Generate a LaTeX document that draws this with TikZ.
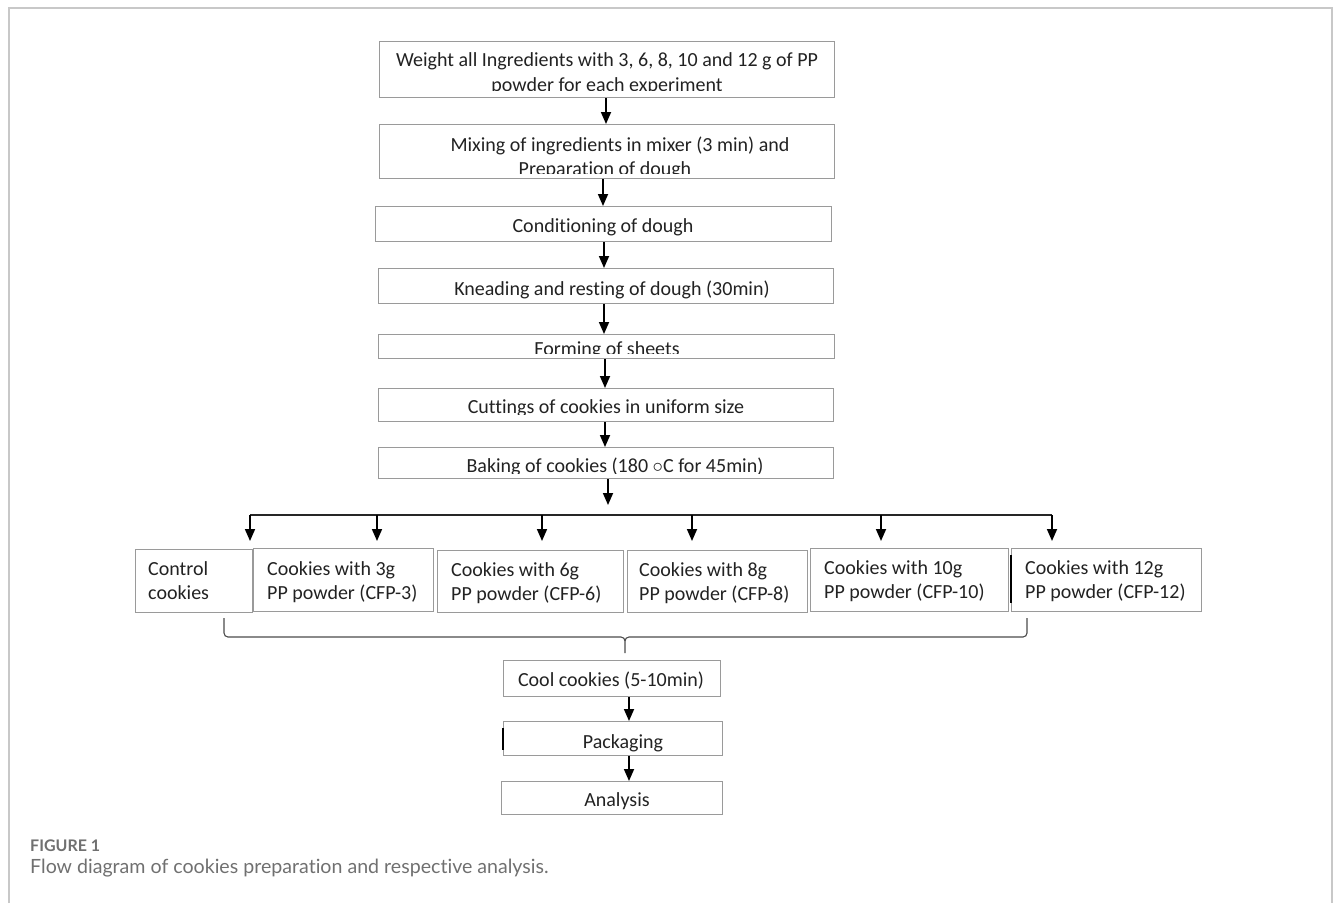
\documentclass[tikz,border=0pt]{standalone}
\usepackage{fontspec}
\setmainfont{Carlito}[Ligatures=NoCommon]
\newfontfamily\capfont{Lato}[Ligatures=NoCommon]
\usetikzlibrary{arrows.meta}
\definecolor{boxgray}{HTML}{9A9A9A}
\definecolor{framegray}{HTML}{C8C8C8}
\definecolor{capgray}{HTML}{707070}
\definecolor{textblack}{HTML}{222222}
\begin{document}
\begin{tikzpicture}[x=1pt,y=-1pt,
  box/.style={draw=boxgray, line width=1.1pt, inner sep=0pt, anchor=north west},
  txt/.style={inner sep=0pt, anchor=base, text=textblack, font=\fontsize{20}{24}\selectfont},
  ltxt/.style={txt, anchor=base west},
  arr/.style={draw=black, line width=1.7pt, -{Triangle[width=10pt,length=12pt]}},
  plain/.style={draw=black!85, line width=1.5pt},
  brace/.style={draw=black!70, line width=1.1pt},
  tick/.style={draw=black, line width=1.2pt}]
\useasboundingbox (0,0) rectangle (1333,903);
% outer frame
\draw[framegray, line width=2pt] (9,903) -- (9,8) -- (1332,8) -- (1332,903);

% main chain boxes
\node[box, minimum width=455pt, minimum height=56pt] (b1) at (379,41) {};
\node[box, minimum width=455pt, minimum height=54pt] (b2) at (379,124) {};
\node[box, minimum width=456pt, minimum height=35pt] (b3) at (375,206) {};
\node[box, minimum width=455pt, minimum height=35pt] (b4) at (378,268) {};
\node[box, minimum width=456pt, minimum height=24pt] (b5) at (378,334) {};
\node[box, minimum width=455pt, minimum height=33pt] (b6) at (378,388) {};
\node[box, minimum width=455pt, minimum height=31pt] (b7) at (378,447) {};

% texts
\node[txt] (t1a) at (607,66.5) {Weight all Ingredients with 3, 6, 8, 10 and 12 g of PP};
\begin{scope}
  \clip (379,70) rectangle (834,90);
  \node[txt] (t1b) at (607,91.5) {powder for each experiment};
\end{scope}
\node[txt] (t2a) at (620,151) {Mixing of ingredients in mixer (3 min) and};
\begin{scope}
  \clip (379,155) rectangle (834,173.5);
  \node[txt] (t2b) at (605,175.5) {Preparation of dough};
\end{scope}
\node[txt] (t3) at (603,232) {Conditioning of dough};
\node[txt] (t4) at (612,295) {Kneading and resting of dough (30min)};
\begin{scope}
  \clip (378,335) rectangle (834,353);
  \node[txt] (t5) at (607,355) {Forming of sheets};
\end{scope}
\begin{scope}
  \clip (378,389) rectangle (833,414);
  \node[txt] (t6) at (606,413) {Cuttings of cookies in uniform size};
\end{scope}
\begin{scope}
  \clip (378,448) rectangle (833,473);
  \node[txt] (t7) at (615,472) {Baking of cookies (180 $\circ$C for 45min)};
\end{scope}

% chain arrows
\coordinate (v1) at (606,0);
\coordinate (v2) at (603,0);
\coordinate (v3) at (604,0);
\coordinate (v5) at (605,0);
\draw[arr] (b1.south -| v1) -- (b2.north -| v1);
\draw[arr] (b2.south -| v2) -- (b3.north -| v2);
\draw[arr] (b3.south -| v3) -- (b4.north -| v3);
\draw[arr] (b4.south -| v3) -- (b5.north -| v3);
\draw[arr] (b5.south -| v5) -- (b6.north -| v5);
\draw[arr] (b6.south -| v5) -- (b7.north -| v5);
\coordinate (bk) at (608,505);
\draw[arr] (b7.south -| bk) -- (bk);

% distribution line
\coordinate (hl) at (250,515);
\coordinate (hr) at (1052,515);
\draw[plain] (hl) -- (hr);
\coordinate (a0) at (250,541);
\coordinate (a1) at (377,541);
\coordinate (a2) at (542,541);
\coordinate (a3) at (692,541);
\coordinate (a4) at (881,541);
\coordinate (a5) at (1052,541);
\foreach \a in {a0,a1,a2,a3,a4,a5} { \draw[arr] (\a |- hl) -- (\a); }

% sample boxes
\node[box, minimum width=117pt, minimum height=63pt] (c0) at (135,549) {};
\node[box, minimum width=180pt, minimum height=63pt] (c1) at (253,548) {};
\node[box, minimum width=186pt, minimum height=62pt] (c2) at (437,550) {};
\node[box, minimum width=180pt, minimum height=62pt] (c3) at (627,550) {};
\node[box, minimum width=198pt, minimum height=63pt] (c4) at (810,548) {};
\node[box, minimum width=190pt, minimum height=63pt] (c5) at (1011,548) {};
\draw[tick] (1011,555) -- (1011,603);

\node[ltxt] (u0a) at (148,575) {Control};
\node[ltxt] (u0b) at (148,599) {cookies};
\node[ltxt] (u1a) at (267,575) {Cookies with 3g};
\node[ltxt] (u1b) at (267,599) {PP powder (CFP-3)};
\node[ltxt] (u2a) at (451,576) {Cookies with 6g};
\node[ltxt] (u2b) at (451,600) {PP powder (CFP-6)};
\node[ltxt] (u3a) at (639,576) {Cookies with 8g};
\node[ltxt] (u3b) at (639,600) {PP powder (CFP-8)};
\node[ltxt] (u4a) at (824,574) {Cookies with 10g};
\node[ltxt] (u4b) at (824,598) {PP powder (CFP-10)};
\node[ltxt] (u5a) at (1025,574) {Cookies with 12g};
\node[ltxt] (u5b) at (1025,598) {PP powder (CFP-12)};

% brace
\coordinate (bt) at (625,653);
\draw[brace] (224,618) -- (224,633) to[out=-90,in=180] (228,637) -- (621,637)
  to[out=0,in=90] (625,641) -- (bt);
\draw[brace] (1027,618) -- (1027,633) to[out=-90,in=0] (1023,637) -- (629,637)
  to[out=180,in=90] (625,641);

% final boxes
\node[box, minimum width=217pt, minimum height=36pt] (cool) at (503,660) {};
\node[box, minimum width=219pt, minimum height=34pt] (pack) at (503,721) {};
\node[box, minimum width=221pt, minimum height=33pt] (ana) at (501,781) {};
\draw[tick] (503,728) -- (503,750);
\node[txt] (tc) at (611,686) {Cool cookies (5-10min)};
\node[txt] (tp) at (623,748) {Packaging};
\node[txt] (ta) at (617,806) {Analysis};
\coordinate (k1) at (629,0);
\draw[arr] (cool.south -| k1) -- (pack.north -| k1);
\draw[arr] (pack.south -| k1) -- (ana.north -| k1);

% caption
\node[inner sep=0pt, anchor=base west, text=capgray, font=\capfont\bfseries\fontsize{16}{18}\selectfont] (fig) at (30,851) {FIGURE 1};
\node[inner sep=0pt, anchor=base west, text=capgray, font=\capfont\fontsize{19.6}{23}\selectfont] (cap) at (30,873) {Flow diagram of cookies preparation and respective analysis.};
\end{tikzpicture}
\end{document}
